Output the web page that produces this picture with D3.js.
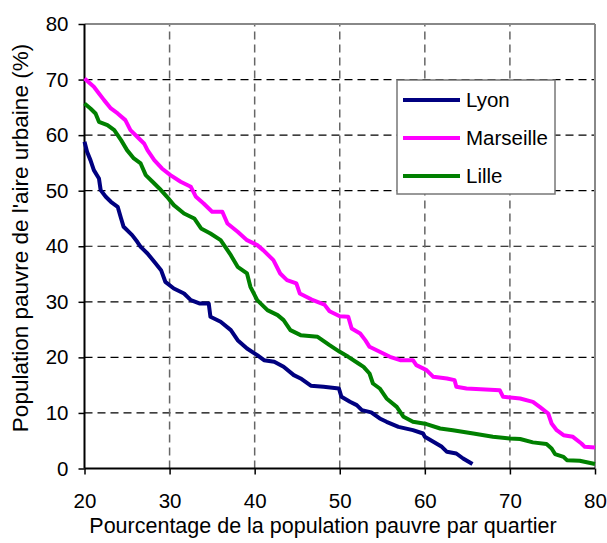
<!DOCTYPE html>
<html>
<head>
<meta charset="utf-8">
<script src="https://cdn.jsdelivr.net/npm/d3@7"></script>
<style>
  html, body { margin: 0; padding: 0; background: #fff; }
  text { font-family: "Liberation Sans", Arial, sans-serif; fill: #000; }
</style>
</head>
<body>
<svg id="chart" width="607" height="543"></svg>
<script>
// ---- data ----
const seriesNames = ["Lyon", "Marseille", "Lille"];
const seriesColors = ["#000080", "#FF00FF", "#008000"];

const lyonX = [20, 20.3, 20.7, 21.1, 21.7, 21.9, 22.5, 23.1, 23.9, 24.3, 24.6, 25.6, 26.2, 26.6, 27.0, 27.4, 28.2, 29.0, 29.5, 30.5, 31.7, 32.5, 33.5, 34.6, 34.8, 36.0, 37.2, 38.0, 39.1, 40.3, 41.1, 42.3, 43.4, 44.6, 45.4, 46.6, 48.1, 49.9, 50.2, 51.2, 52.0, 52.6, 53.7, 54.7, 55.5, 56.9, 58.6, 59.8, 60.0, 61.0, 62.0, 62.6, 63.7, 64.5, 65.6];
const lyonY = [58.8, 57.0, 55.5, 53.7, 52.2, 50.1, 48.9, 48.0, 47.1, 45.0, 43.5, 42.0, 40.8, 39.9, 39.3, 38.7, 37.2, 35.7, 33.6, 32.4, 31.5, 30.3, 29.7, 29.7, 27.3, 26.4, 24.9, 23.1, 21.6, 20.4, 19.5, 19.2, 18.3, 16.8, 16.2, 14.9, 14.7, 14.4, 12.9, 12.0, 11.4, 10.5, 10.1, 9.0, 8.4, 7.5, 6.9, 6.3, 5.7, 4.8, 3.9, 3.0, 2.7, 1.8, 0.8];

const marseilleX = [20, 21.1, 21.7, 22.3, 23.1, 23.9, 24.8, 25.4, 26.4, 27.0, 27.4, 28.2, 29.1, 30.1, 31.3, 32.5, 33.1, 34.0, 35.0, 36.2, 36.8, 38.0, 39.1, 40.3, 41.0, 42.2, 43.0, 43.8, 44.9, 45.3, 46.7, 48.2, 48.8, 50.0, 51.0, 51.4, 52.4, 53.0, 53.5, 54.7, 55.9, 57.1, 58.6, 59.0, 60.2, 61.0, 62.6, 63.5, 63.7, 64.9, 68.8, 69.2, 71.2, 72.7, 73.5, 74.5, 74.9, 75.5, 76.3, 77.4, 78.4, 78.8, 80.0];
const marseilleY = [70.2, 68.7, 67.5, 66.3, 64.8, 63.9, 62.7, 60.9, 59.4, 58.5, 57.3, 55.5, 54.0, 52.8, 51.6, 50.7, 48.9, 47.7, 46.2, 46.2, 44.1, 42.6, 41.1, 40.2, 39.3, 37.5, 35.1, 33.9, 33.3, 31.5, 30.4, 29.5, 28.3, 27.4, 27.3, 25.2, 24.3, 23.1, 21.9, 21.0, 20.1, 19.5, 19.5, 18.6, 17.7, 16.5, 16.2, 15.9, 14.7, 14.4, 14.1, 12.9, 12.6, 12.0, 11.1, 9.9, 8.1, 6.9, 6.0, 5.7, 4.5, 3.9, 3.8];

const lilleX = [20, 20.7, 21.3, 21.7, 22.7, 23.5, 24.3, 25.0, 25.8, 26.6, 27.2, 28.0, 28.8, 29.7, 30.5, 31.7, 32.9, 33.7, 34.8, 36.0, 37.2, 38.0, 39.1, 39.5, 40.3, 41.5, 42.7, 43.4, 44.2, 45.4, 47.4, 48.8, 50.0, 51.0, 52.2, 52.8, 53.5, 53.9, 54.7, 55.5, 56.7, 57.5, 58.6, 60.2, 61.8, 63.3, 65.7, 68.0, 70.0, 71.2, 72.7, 74.3, 74.9, 75.3, 76.3, 76.7, 78.2, 80.0];
const lilleY = [65.7, 64.8, 63.9, 62.4, 61.8, 60.9, 59.1, 57.3, 55.8, 54.9, 52.8, 51.6, 50.4, 48.9, 47.4, 45.9, 45.0, 43.2, 42.3, 41.1, 38.4, 36.3, 35.1, 32.7, 30.3, 28.5, 27.6, 26.7, 24.9, 24.0, 23.7, 22.2, 21.0, 20.1, 18.9, 18.3, 17.1, 15.3, 14.4, 12.6, 11.1, 9.3, 8.4, 8.0, 7.2, 6.9, 6.3, 5.7, 5.4, 5.3, 4.7, 4.4, 3.6, 2.6, 2.1, 1.5, 1.4, 0.8];

const xTicks = [20, 30, 40, 50, 60, 70, 80];
const yTicks = [0, 10, 20, 30, 40, 50, 60, 70, 80];
const xTitle = "Pourcentage de la population pauvre par quartier";
const yTitle = "Population pauvre de l'aire urbaine (%)";

// ---- drawing ----
const svg = d3.select("#chart");
const x = d3.scaleLinear().domain([20, 80]).range([84.5, 595]);
const y = d3.scaleLinear().domain([0, 80]).range([468.5, 24]);

const series = [
  { name: seriesNames[0], color: seriesColors[0], xs: lyonX, ys: lyonY },
  { name: seriesNames[1], color: seriesColors[1], xs: marseilleX, ys: marseilleY },
  { name: seriesNames[2], color: seriesColors[2], xs: lilleX, ys: lilleY }
];

// gridlines
svg.append("g").selectAll("line").data(yTicks.filter(d => d > 0 && d < 80)).join("line")
  .attr("x1", x(20)).attr("x2", x(80))
  .attr("y1", d => y(d)).attr("y2", d => y(d))
  .attr("stroke", "#000").attr("stroke-width", 1.2).attr("stroke-dasharray", "8,5");
svg.append("g").selectAll("line").data(xTicks.filter(d => d > 20 && d < 80)).join("line")
  .attr("x1", d => x(d)).attr("x2", d => x(d))
  .attr("y1", y(0)).attr("y2", y(80))
  .attr("stroke", "#666").attr("stroke-width", 1.5).attr("stroke-dasharray", "8,5");

// frame top/right
svg.append("line").attr("x1", x(20)).attr("x2", x(80)).attr("y1", y(80)).attr("y2", y(80))
  .attr("stroke", "#888").attr("stroke-width", 2);
svg.append("line").attr("x1", x(80)).attr("x2", x(80)).attr("y1", y(0)).attr("y2", y(80))
  .attr("stroke", "#888").attr("stroke-width", 2);

// axes
const xAxis = d3.axisBottom(x).tickValues(xTicks).tickSize(6).tickPadding(19).tickFormat(d3.format("d"));
const yAxis = d3.axisLeft(y).tickValues(yTicks).tickSize(6).tickPadding(10).tickFormat(d3.format("d"));
const gx = svg.append("g").attr("transform", `translate(0,${y(0)})`).call(xAxis);
const gy = svg.append("g").attr("transform", `translate(${x(20)},0)`).call(yAxis);
[gx, gy].forEach(g => {
  g.select(".domain").attr("stroke", "#000").attr("stroke-width", 2);
  g.selectAll(".tick line").attr("stroke", "#000").attr("stroke-width", 1.5);
  g.selectAll(".tick text").attr("font-size", 20.5).attr("font-family", "Liberation Sans, Arial, sans-serif").attr("fill", "#000");
});
gx.select(".domain").attr("d", `M${x(20)},0H${x(80)}`);
gy.select(".domain").attr("d", `M0,${y(0)}V${y(80)}`);

// lines
const line = d3.line().x(d => x(d[0])).y(d => y(d[1]));
series.forEach(s => {
  const pts = s.xs.map((v, i) => [v, s.ys[i]]);
  svg.append("path").datum(pts)
    .attr("d", line)
    .attr("fill", "none")
    .attr("stroke", s.color)
    .attr("stroke-width", 4)
    .attr("stroke-linejoin", "round")
    .attr("stroke-linecap", "butt");
});

// legend
const lg = svg.append("g");
lg.append("rect").attr("x", 397).attr("y", 80).attr("width", 158).attr("height", 114)
  .attr("fill", "#fff").attr("stroke", "#777").attr("stroke-width", 1.5);
series.forEach((s, i) => {
  const cy = 100 + i * 38;
  lg.append("line").attr("x1", 403).attr("x2", 460).attr("y1", cy).attr("y2", cy)
    .attr("stroke", s.color).attr("stroke-width", 4);
  lg.append("text").attr("x", 466).attr("y", cy).attr("dy", "0.35em")
    .attr("font-size", 20.5).text(s.name);
});

// titles
svg.append("text").attr("x", 323).attr("y", 533).attr("text-anchor", "middle")
  .attr("font-size", 21.5).text(xTitle);
svg.append("text").attr("transform", "translate(28,238) rotate(-90)").attr("text-anchor", "middle")
  .attr("font-size", 22.5).text(yTitle);
</script>
</body>
</html>
